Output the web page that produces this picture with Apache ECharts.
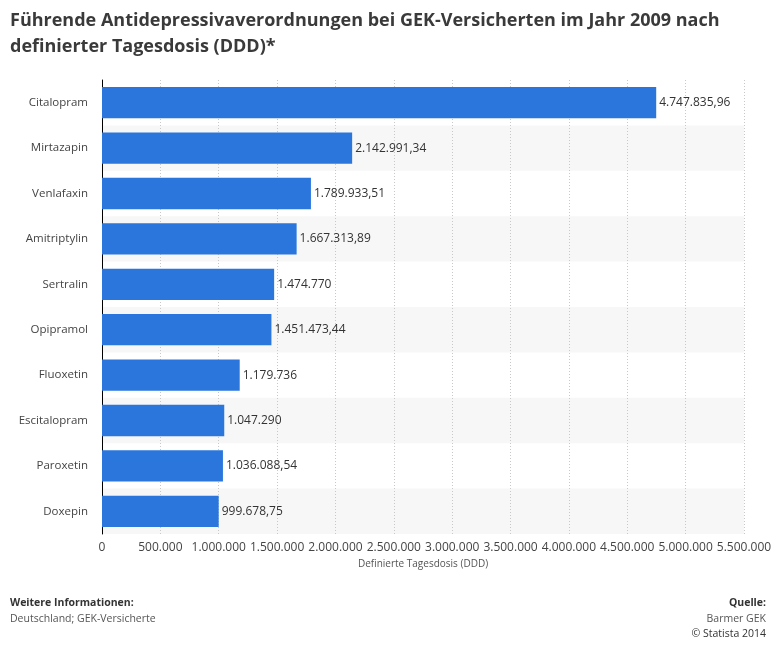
<!DOCTYPE html>
<html><head><meta charset="utf-8">
<script src="https://cdn.jsdelivr.net/npm/echarts@6/dist/echarts.min.js"></script>
<style>html,body{margin:0;padding:0;background:#fff}#c{width:776px;height:654px}</style>
</head><body><div id="c"></div>
<script>
const categories = ["Citalopram","Mirtazapin","Venlafaxin","Amitriptylin","Sertralin","Opipramol","Fluoxetin","Escitalopram","Paroxetin","Doxepin"];
const values = [4747835.96,2142991.34,1789933.51,1667313.89,1474770,1451473.44,1179736,1047290,1036088.54,999678.75];
const titleText = "Führende Antidepressivaverordnungen bei GEK-Versicherten im Jahr 2009 nach\ndefinierter Tagesdosis (DDD)*";
const axisName = "Definierte Tagesdosis (DDD)";

function fmt(v){
  const neg = v < 0; v = Math.abs(v);
  let ip = Math.floor(v), fp = Math.round((v - ip) * 100);
  if (fp === 100){ ip += 1; fp = 0; }
  let s = String(ip).replace(/\B(?=(\d{3})+(?!\d))/g, ".");
  if (fp > 0) s += "," + String(fp).padStart(2, "0");
  return (neg ? "-" : "") + s;
}

const chart = echarts.init(document.getElementById('c'), null, {renderer:'canvas'});
const font = "'Open Sans', 'DejaVu Sans', sans-serif";
chart.setOption({
  animation:false,
  backgroundColor:'#fff',
  textStyle:{fontFamily:font},
  grid:{left:102, right:32, top:80, bottom:120, containLabel:false},
  xAxis:{
    type:'value', min:0, max:5500000, interval:500000,
    name:axisName, nameLocation:'middle', nameGap:24,
    nameTextStyle:{fontSize:10, color:'#555', fontFamily:font},
    axisLine:{show:false}, axisTick:{show:false},
    axisLabel:{formatter:fmt, fontSize:12, color:'#444', margin:8, fontFamily:font, hideOverlap:false},
    splitLine:{show:true, lineStyle:{type:[1,2], color:'#c8c8c8', width:1}}
  },
  yAxis:{
    type:'category', data:categories, inverse:true,
    axisLine:{show:true, lineStyle:{color:'#000', width:1}},
    axisTick:{show:false},
    axisLabel:{fontSize:11.5, color:'#444', margin:14, fontFamily:font},
    splitArea:{show:true, areaStyle:{color:['rgba(255,255,255,0)','#f7f7f7']}}
  },
  series:[{
    type:'bar', data:values, barWidth:'69%',
    itemStyle:{color:'#2a76dd'},
    label:{show:true, position:'right', distance:3, formatter:p=>fmt(p.value), fontSize:12, color:'#333', fontFamily:font}
  }],
  graphic:[
    {type:'text', left:10, top:8, style:{text:titleText, font:"bold 18px 'Open Sans', sans-serif", fill:'#3a3a3a', lineHeight:26}},
    {type:'text', left:10, top:598, style:{text:"Weitere Informationen:", font:"bold 10.5px 'Open Sans', sans-serif", fill:'#333'}},
    {type:'text', left:10, top:614, style:{text:"Deutschland; GEK-Versicherte", font:"10.5px 'Open Sans', sans-serif", fill:'#555'}},
    {type:'text', right:10, top:598, style:{text:"Quelle:", font:"bold 10.5px 'Open Sans', sans-serif", fill:'#333', align:'right'}},
    {type:'text', right:10, top:614, style:{text:"Barmer GEK", font:"10.5px 'Open Sans', sans-serif", fill:'#555', align:'right'}},
    {type:'text', right:10, top:629, style:{text:"© Statista 2014", font:"10.5px 'Open Sans', sans-serif", fill:'#333', align:'right'}}
  ]
});
</script></body></html>
